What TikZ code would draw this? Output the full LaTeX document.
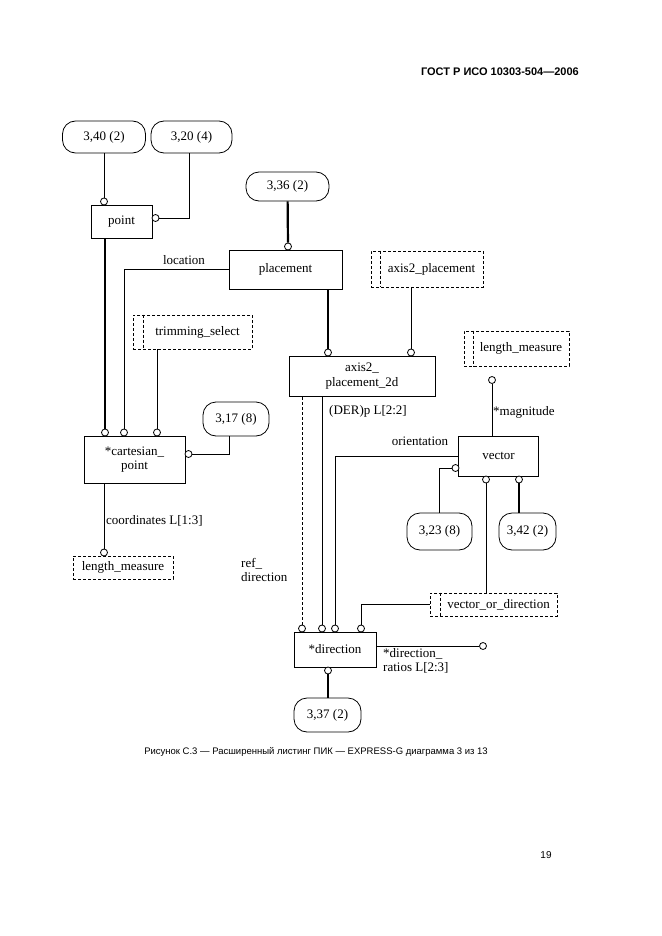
\documentclass[tikz,border=0pt]{standalone}
\usepackage{fontspec}
\setmainfont{Liberation Serif}
\newfontfamily\capfont{Liberation Sans}
\usetikzlibrary{calc}
\begin{document}
\begin{tikzpicture}[x=1pt,y=-1pt,
  every node/.style={font=\fontsize{13}{14.5}\selectfont},
  ent/.style={draw, line width=0.8pt, inner sep=0pt, align=center},
  refb/.style={draw, line width=0.8pt, rounded corners=13pt, inner sep=0pt},
  typ/.style={draw, dash pattern=on 3pt off 2pt, line width=0.8pt, inner sep=0pt},
  oc/.style={circle, draw, fill=white, inner sep=0pt, minimum size=7pt, line width=0.8pt},
  ln/.style={line width=0.8pt},
  thk/.style={line width=2.2pt},
  dln/.style={line width=0.8pt, dash pattern=on 3pt off 2pt},
  lbl/.style={inner sep=0pt, align=left}]
\useasboundingbox (0,0) rectangle (661,936);
\fill[white] (0,0) rectangle (661,936);

% header, caption, page number
\node[inner sep=0pt, anchor=east, font=\capfont\bfseries\fontsize{11}{13}\selectfont] (hdr) at (579,72) {ГОСТ Р ИСО 10303-504—2006};
\node[inner sep=0pt, font=\capfont\fontsize{9.5}{11}\selectfont] (cap) at (316,752) {Рисунок С.3 — Расширенный листинг ПИК — EXPRESS-G диаграмма 3 из 13};
\node[inner sep=0pt, font=\capfont\fontsize{10}{12}\selectfont] (pgn) at (546,855) {19};

% reference (page) boxes
\node[refb, minimum width=83pt, minimum height=32pt] (n340) at (104,137) {3,40 (2)};
\node[refb, minimum width=81pt, minimum height=32pt] (n320) at (191.5,137) {3,20 (4)};
\node[refb, minimum width=83pt, minimum height=29pt] (n336) at (287.5,186.5) {3,36 (2)};
\node[refb, minimum width=66pt, minimum height=34pt] (n317) at (236,419) {3,17 (8)};
\node[refb, minimum width=65pt, minimum height=37pt] (n323) at (439.5,531.5) {3,23 (8)};
\node[refb, minimum width=57pt, minimum height=37pt] (n342) at (527.5,531.5) {3,42 (2)};
\node[refb, minimum width=67pt, minimum height=34pt] (n337) at (327.5,715) {3,37 (2)};

% entities
\node[ent, minimum width=61pt, minimum height=33pt] (point) at (121.5,221.5) {point};
\node[ent, minimum width=113pt, minimum height=39pt] (placement) at (285.5,269.5) {placement};
\node[ent, minimum width=101pt, minimum height=47pt] (cart) at (134.5,459.5) {*cartesian\_\\point};
\node[ent, minimum width=146pt, minimum height=40pt] (a2p2d) at (362,376) {axis2\_\\placement\_2d};
\node[ent, minimum width=80pt, minimum height=40pt] (vector) at (498.5,456) {vector};
\node[ent, minimum width=82pt, minimum height=35pt] (dir) at (335,649.5) {*direction};

% types
\node[typ, minimum width=119pt, minimum height=34pt] (trim) at (192.5,332) {\hspace*{10pt}trimming\_select};
\draw[dln] ($(trim.north west)+(10.5,0)$) -- ($(trim.south west)+(10.5,0)$);
\node[typ, minimum width=112pt, minimum height=36pt] (ax2) at (427,269) {\hspace*{9pt}axis2\_placement};
\draw[dln] ($(ax2.north west)+(10,0)$) -- ($(ax2.south west)+(10,0)$);
\node[typ, minimum width=105pt, minimum height=35pt] (lmr) at (516.5,348.5) {\hspace*{9pt}length\_measure};
\draw[dln] ($(lmr.north west)+(10,0)$) -- ($(lmr.south west)+(10,0)$);
\node[typ, minimum width=100pt, minimum height=23pt] (lml) at (123,567.5) {length\_measure};
\node[typ, minimum width=127pt, minimum height=23pt] (vod) at (493.5,604.5) {\hspace*{10pt}vector\_or\_direction};
\draw[dln] ($(vod.north west)+(11,0)$) -- ($(vod.south west)+(11,0)$);

% circles
\node[oc] (pt_t) at (104,201.5) {};
\node[oc] (pt_r) at (155.5,218) {};
\node[oc] (pl_t) at (288,246.5) {};
\node[oc] (cp1) at (105,432.5) {};
\node[oc] (cp2) at (124,432.5) {};
\node[oc] (cp3) at (157,432.5) {};
\node[oc] (cp_r) at (188.5,454) {};
\node[oc] (lm_t) at (104,552.5) {};
\node[oc] (a2_1) at (328,352.5) {};
\node[oc] (a2_2) at (411,352.5) {};
\node[oc] (lm_c) at (492,380) {};
\node[oc] (v_l) at (455.5,468) {};
\node[oc] (v_b1) at (486,479.5) {};
\node[oc] (v_b2) at (519,479.5) {};
\node[oc] (d1) at (302,628.5) {};
\node[oc] (d2) at (322,628.5) {};
\node[oc] (d3) at (335,628.5) {};
\node[oc] (d4) at (361,628.5) {};
\node[oc] (d_r) at (483,646) {};
\node[oc] (d_b) at (328,670.5) {};

% connectors
\draw[ln] (n340) -- (pt_t);
\draw[ln] ($(n320.south)+(-2.5,0)$) |- (pt_r);
\draw[thk] (cp1) -- (cp1 |- point.south);
\draw[ln] (placement.west) -| (cp2);
\draw[ln] (cp3) -- (cp3 |- trim.south);
\draw[ln] ($(n317.south)+(-7,0)$) |- (cp_r);
\draw[ln] (lm_t) -- (lm_t |- cart.south);
\draw[thk] (n336) -- (pl_t);
\draw[thk] (a2_1) -- (a2_1 |- placement.south);
\draw[ln] (a2_2) -- (a2_2 |- ax2.south);
\draw[dln] (d1) -- (d1 |- a2p2d.south);
\draw[ln] (d2) -- (d2 |- a2p2d.south);
\draw[ln] (vector.west) -| (d3);
\draw[ln] (vod.west) -| (d4);
\draw[ln] (v_l) -| (n323);
\draw[ln] (v_b1) -- (v_b1 |- vod.north);
\draw[thk] (v_b2) -- (v_b2 |- n342.north);
\draw[ln] (lm_c) -- (lm_c |- vector.north);
\draw[ln] (d_r) -- (d_r -| dir.east);
\draw[thk] (d_b) -- (d_b |- n337.north);

% labels
\node[lbl] (l_loc) at (184,260) {location};
\node[lbl, anchor=west] (l_coord) at (106,521) {coordinates L[1:3]};
\node[lbl, anchor=west] (l_der) at (329,411) {(DER)p L[2:2]};
\node[lbl, anchor=west] (l_mag) at (493,412) {*magnitude};
\node[lbl] (l_ori) at (420,441) {orientation};
\node[lbl, anchor=north west] (l_ref) at (241,558) {ref\_\\direction};
\node[lbl, anchor=north west] (l_dr) at (383,648) {*direction\_\\ratios L[2:3]};
\end{tikzpicture}
\end{document}
